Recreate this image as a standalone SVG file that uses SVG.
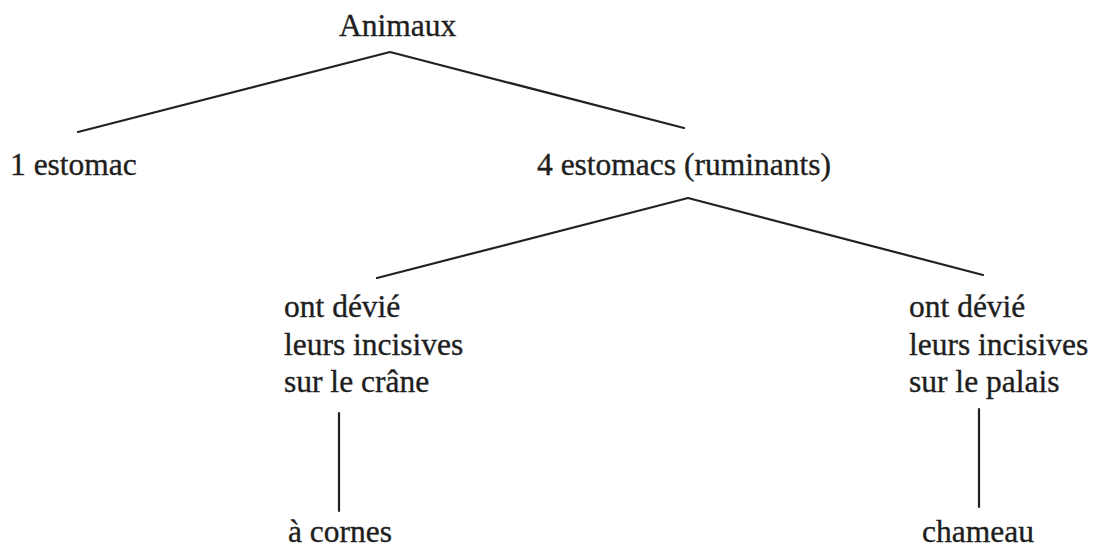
<svg xmlns="http://www.w3.org/2000/svg" width="1097" height="552" viewBox="0 0 1097 552">
  <defs>
    <style>
      .edge { stroke: #222; stroke-width: 2.2; fill: none; stroke-linecap: round; stroke-linejoin: round; }
    </style>
  </defs>
  <rect width="1097" height="552" fill="#ffffff"/>

  <!-- tree branches -->
  <g id="connectors">
    <polyline class="edge" points="78,132 390,52 684,128"/>
    <polyline class="edge" points="377,278 688,198 983,275"/>
    <line class="edge" x1="339" y1="413" x2="339" y2="511"/>
    <line class="edge" x1="979" y1="409" x2="979" y2="507"/>
  </g>

  <g font-family="Liberation Serif, Times New Roman, Times, serif" font-size="31.5" fill="#1e1e1e" stroke="#1e1e1e" stroke-width="0.35">
    <g id="animaux">
      <text x="339" y="36">Animaux</text>
    </g>
    <g id="un-estomac">
      <text x="10" y="175">1 estomac</text>
    </g>
    <g id="quatre-estomacs">
      <text x="537" y="175">4 estomacs (ruminants)</text>
    </g>
    <g id="incisives-crane">
      <text x="284" y="317">ont dévié</text>
      <text x="284" y="355">leurs incisives</text>
      <text x="284" y="392">sur le crâne</text>
    </g>
    <g id="incisives-palais">
      <text x="909" y="317">ont dévié</text>
      <text x="909" y="355">leurs incisives</text>
      <text x="909" y="392">sur le palais</text>
    </g>
    <g id="a-cornes">
      <text x="288" y="542">à cornes</text>
    </g>
    <g id="chameau">
      <text x="922" y="542">chameau</text>
    </g>
  </g>
</svg>
